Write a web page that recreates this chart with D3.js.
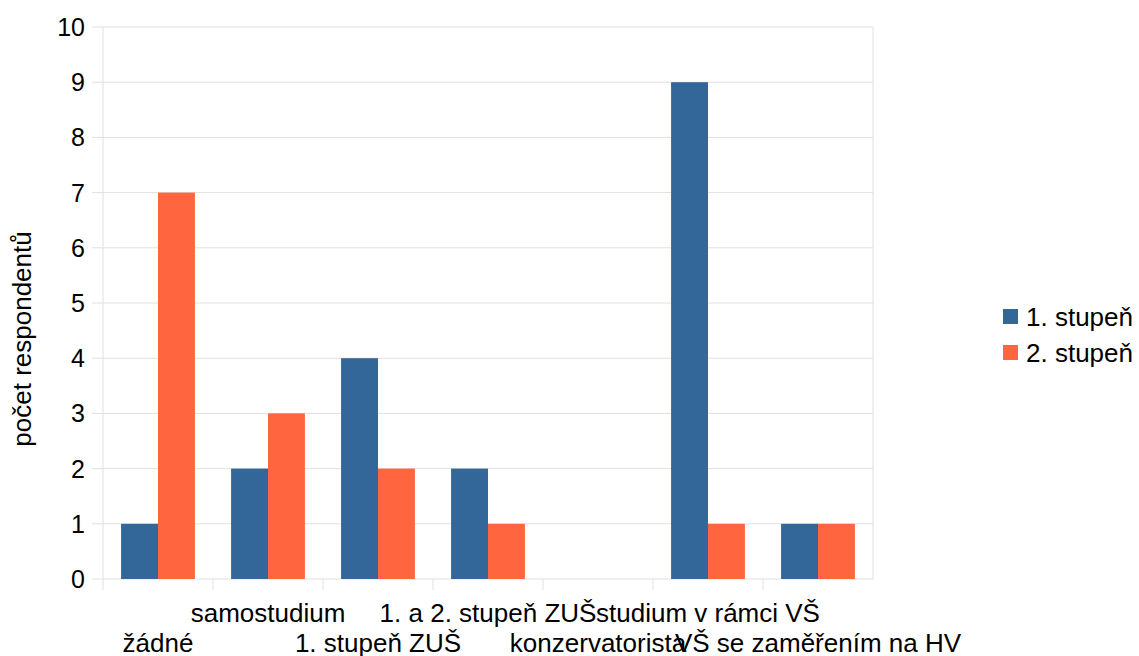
<!DOCTYPE html>
<html>
<head>
<meta charset="utf-8">
<script src="https://cdn.jsdelivr.net/npm/d3@7"></script>
<style>
  body { margin: 0; background: #fff; }
  text { font-family: "Liberation Sans", Arial, sans-serif; fill: #000; }
</style>
</head>
<body>
<div id="chart"></div>
<script>
const categories = ["žádné", "samostudium", "1. stupeň ZUŠ", "1. a 2. stupeň ZUŠ",
    "konzervatorista", "studium v rámci VŠ", "VŠ se zaměřením na HV"];
const seriesNames = ["1. stupeň", "2. stupeň"];
const stupen1 = [1, 2, 4, 2, 0, 9, 1];
const stupen2 = [7, 3, 2, 1, 0, 1, 1];
const yTicks = [0, 1, 2, 3, 4, 5, 6, 7, 8, 9, 10];
const colors = ["#336699", "#ff6640"];

const width = 1139, height = 656;
const plotLeft = 103, plotRight = 873, plotTop = 27, plotBottom = 579;

const svg = d3.select("#chart").append("svg")
    .attr("width", width)
    .attr("height", height);

const x = d3.scaleBand()
    .domain(categories)
    .range([plotLeft, plotRight]);
const xInner = d3.scaleBand()
    .domain(seriesNames)
    .range([0, x.bandwidth()])
    .paddingOuter(0.49);
const y = d3.scaleLinear()
    .domain([0, 10])
    .range([plotBottom, plotTop]);

// grid lines
svg.append("g")
    .selectAll("line")
    .data(yTicks)
    .enter()
    .append("line")
    .attr("x1", plotLeft - 11)
    .attr("x2", plotRight)
    .attr("y1", d => y(d))
    .attr("y2", d => y(d))
    .attr("stroke", "#e0e0e0")
    .attr("stroke-width", 1);

// vertical lines: axis, right border, category ticks
const bounds = categories.map(c => x(c)).concat([plotRight]);
svg.append("g")
    .selectAll("line")
    .data(bounds)
    .enter()
    .append("line")
    .attr("x1", d => d)
    .attr("x2", d => d)
    .attr("y1", (d, i) => (i === 0 || i === bounds.length - 1) ? plotTop : plotBottom)
    .attr("y2", (d, i) => i === bounds.length - 1 ? plotBottom : plotBottom + 11)
    .attr("stroke", "#e0e0e0")
    .attr("stroke-width", 1);

// bars
const rows = categories.map((c, i) => ({cat: c, vals: [stupen1[i], stupen2[i]]}));
const groups = svg.append("g")
    .selectAll("g")
    .data(rows)
    .enter()
    .append("g")
    .attr("transform", d => `translate(${x(d.cat)},0)`);

groups.selectAll("rect")
    .data(d => d.vals.map((v, k) => ({v: v, k: k})))
    .enter()
    .append("rect")
    .attr("x", d => xInner(seriesNames[d.k]))
    .attr("width", xInner.bandwidth())
    .attr("y", d => y(d.v))
    .attr("height", d => y(0) - y(d.v))
    .attr("fill", d => colors[d.k]);

// y tick labels
svg.append("g")
    .selectAll("text")
    .data(yTicks)
    .enter()
    .append("text")
    .attr("x", 85)
    .attr("y", d => y(d))
    .attr("dy", "0.36em")
    .attr("text-anchor", "end")
    .style("font-size", "25px")
    .text(d => d);

// x labels, staggered
svg.append("g")
    .selectAll("text")
    .data(categories)
    .enter()
    .append("text")
    .attr("x", d => x(d) + x.bandwidth() / 2)
    .attr("y", (d, i) => i % 2 === 1 ? 622 : 652)
    .attr("text-anchor", "middle")
    .style("font-size", "26px")
    .text(d => d);

// y axis title
svg.append("text")
    .attr("transform", "translate(31,339) rotate(-90)")
    .attr("text-anchor", "middle")
    .style("font-size", "26px")
    .text("počet respondentů");

// legend
const legend = svg.append("g")
    .selectAll("g")
    .data(seriesNames)
    .enter()
    .append("g")
    .attr("transform", (d, i) => `translate(1003,${309 + i * 36})`);
legend.append("rect")
    .attr("width", 15)
    .attr("height", 15)
    .attr("fill", (d, i) => colors[i]);
legend.append("text")
    .attr("x", 23)
    .attr("y", 8)
    .attr("dy", "0.36em")
    .style("font-size", "26px")
    .text(d => d);
</script>
</body>
</html>
